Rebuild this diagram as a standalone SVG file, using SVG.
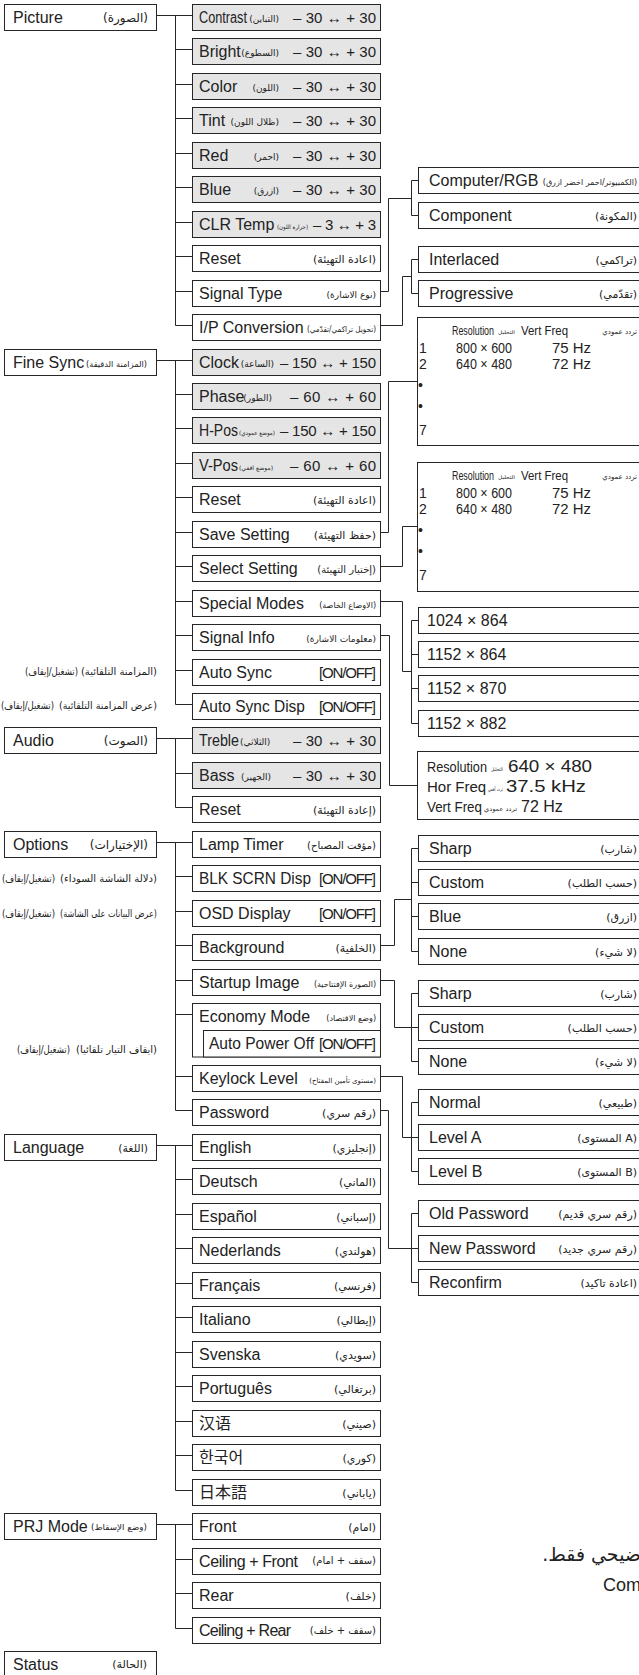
<svg xmlns="http://www.w3.org/2000/svg" width="639" height="1675" viewBox="0 0 639 1675">
<style>
.b{fill:#fff;stroke:#262626;stroke-width:1}
.g{fill:#e5e5e5;stroke:#262626;stroke-width:1}
.c{fill:none;stroke:#262626;stroke-width:1}
text{fill:#222}
.t{font-family:"Liberation Sans",Arial,sans-serif;font-size:16px}
.v{font-family:"Liberation Sans",Arial,sans-serif;font-size:15px}
.h{font-family:"Liberation Sans",Arial,sans-serif;font-size:13px}
.r{font-family:"Liberation Sans",Arial,sans-serif;font-size:14px}
.a{font-family:"DejaVu Sans",sans-serif}
.s12{font-size:12px}.s11{font-size:11px}.s10{font-size:10px}.s9{font-size:9px}.s8{font-size:8px}.s7{font-size:7px}.s6{font-size:6px}.s5{font-size:5px}
.n{font-size:10px}
.e{text-anchor:end}
.sc{font-family:"Noto Sans CJK SC",sans-serif;font-size:16px}
.kr{font-family:"Noto Sans CJK KR",sans-serif;font-size:16px}
.jp{font-family:"Noto Sans CJK JP",sans-serif;font-size:16px}
</style>

<g id="connectors">
<path class="c" d="M156.5,15.5H192.5M175.5,15.5V325.5M175.5,49.5H192.5M175.5,84.5H192.5M175.5,118.5H192.5M175.5,153.5H192.5M175.5,187.5H192.5M175.5,222.5H192.5M175.5,256.5H192.5M175.5,291.5H192.5M175.5,325.5H192.5"/>
<path class="c" d="M156.5,360.5H192.5M175.5,360.5V704.5M175.5,394.5H192.5M175.5,428.5H192.5M175.5,463.5H192.5M175.5,497.5H192.5M175.5,532.5H192.5M175.5,566.5H192.5M175.5,601.5H192.5M175.5,635.5H192.5M175.5,670.5H192.5M175.5,704.5H192.5"/>
<path class="c" d="M156.5,738.5H192.5M175.5,738.5V807.5M175.5,773.5H192.5M175.5,807.5H192.5"/>
<path class="c" d="M156.5,842.5H192.5M175.5,842.5V1110.5M175.5,876.5H192.5M175.5,911.5H192.5M175.5,945.5H192.5M175.5,980.5H192.5M175.5,1014.5H192.5M175.5,1076.5H192.5M175.5,1110.5H192.5"/>
<path class="c" d="M156.5,1145.5H192.5M175.5,1145.5V1490.5M175.5,1179.5H192.5M175.5,1214.5H192.5M175.5,1248.5H192.5M175.5,1283.5H192.5M175.5,1317.5H192.5M175.5,1352.5H192.5M175.5,1386.5H192.5M175.5,1421.5H192.5M175.5,1455.5H192.5M175.5,1490.5H192.5"/>
<path class="c" d="M156.5,1524.5H192.5M175.5,1524.5V1628.5M175.5,1559.5H192.5M175.5,1593.5H192.5M175.5,1628.5H192.5"/>
<path class="c" d="M380.5,291.5H388.5V198.5H411.5M411.5,180.5V215.5M411.5,180.5H418.5M411.5,215.5H418.5"/>
<path class="c" d="M380.5,325.5H402.5V276.5H411.5M411.5,259.5V293.5M411.5,259.5H418.5M411.5,293.5H418.5"/>
<path class="c" d="M380.5,532.5H388.5V381.5H417.5"/>
<path class="c" d="M380.5,566.5H402.5V526.5H417.5"/>
<path class="c" d="M380.5,601.5H402.5V671.5H411.5M411.5,620.5V723.5M411.5,620.5H418.5M411.5,654.5H418.5M411.5,688.5H418.5M411.5,723.5H418.5"/>
<path class="c" d="M380.5,635.5H389.5V785.5H417.5"/>
<path class="c" d="M380.5,945.5H394.5V899.5H411.5M411.5,848.5V951.5M411.5,848.5H418.5M411.5,882.5H418.5M411.5,916.5H418.5M411.5,951.5H418.5"/>
<path class="c" d="M380.5,980.5H394.5V1027.5H411.5M411.5,993.5V1061.5M411.5,993.5H418.5M411.5,1027.5H418.5M411.5,1061.5H418.5"/>
<path class="c" d="M380.5,1076.5H402.5V1137.5H411.5M411.5,1102.5V1171.5M411.5,1102.5H418.5M411.5,1137.5H418.5M411.5,1171.5H418.5"/>
<path class="c" d="M380.5,1110.5H388.5V1248.5H411.5M411.5,1213.5V1282.5M411.5,1213.5H418.5M411.5,1248.5H418.5M411.5,1282.5H418.5"/>
</g>

<!-- main menu -->
<g id="m-picture"><rect class="b" x="4.5" y="4.5" width="152" height="26"/><text class="t" x="13" y="23">Picture</text><text class="a s12 e" x="148" y="22">(الصورة)</text></g>
<g id="m-finesync"><rect class="b" x="4.5" y="349.5" width="152" height="26"/><text class="t" x="13" y="368">Fine Sync</text><text class="a s8" x="86" y="367" textLength="61" lengthAdjust="spacingAndGlyphs">(المزامنة الدقيقة)</text></g>
<g id="m-audio"><rect class="b" x="4.5" y="727.5" width="152" height="26"/><text class="t" x="13" y="746">Audio</text><text class="a s12 e" x="148" y="745">(الصوت)</text></g>
<g id="m-options"><rect class="b" x="4.5" y="831.5" width="152" height="26"/><text class="t" x="13" y="850">Options</text><text class="a s12 e" x="148" y="849">(الإختيارات)</text></g>
<g id="m-language"><rect class="b" x="4.5" y="1134.5" width="152" height="26"/><text class="t" x="13" y="1153">Language</text><text class="a s11 e" x="148" y="1152">(اللغة)</text></g>
<g id="m-prj"><rect class="b" x="4.5" y="1513.5" width="152" height="26"/><text class="t" x="13" y="1532">PRJ Mode</text><text class="a s8" x="91" y="1530" textLength="56" lengthAdjust="spacingAndGlyphs">(وضع الإسقاط)</text></g>
<g id="m-status"><rect class="b" x="4.5" y="1651.5" width="152" height="30"/><text class="t" x="13" y="1670">Status</text><text class="a s11 e" x="147" y="1668">(الحالة)</text></g>

<!-- side notes: Arabic reading order, first group on the right -->
<g id="note-autosync"><text class="a n e" x="157" y="675">(المزامنة التلقائية)</text><text class="a n e" x="78" y="675" textLength="53" lengthAdjust="spacingAndGlyphs">(تشغيل/إيقاف)</text></g>
<g id="note-autosyncdisp"><text class="a n e" x="157" y="709" textLength="98" lengthAdjust="spacingAndGlyphs">(عرض المزامنة التلقائية)</text><text class="a n e" x="54" y="709" textLength="53" lengthAdjust="spacingAndGlyphs">(تشغيل/إيقاف)</text></g>
<g id="note-blk"><text class="a n e" x="157" y="882" textLength="97" lengthAdjust="spacingAndGlyphs">(دلالة الشاشة السوداء)</text><text class="a n e" x="55" y="882" textLength="53" lengthAdjust="spacingAndGlyphs">(تشغيل/إيقاف)</text></g>
<g id="note-osd"><text class="a n e" x="157" y="917" textLength="97" lengthAdjust="spacingAndGlyphs">(عرض البيانات على الشاشة)</text><text class="a n e" x="55" y="917" textLength="53" lengthAdjust="spacingAndGlyphs">(تشغيل/إيقاف)</text></g>
<g id="note-apo"><text class="a n e" x="157" y="1053">(ايقاف التيار تلقائيا)</text><text class="a n e" x="70" y="1053" textLength="53" lengthAdjust="spacingAndGlyphs">(تشغيل/إيقاف)</text></g>

<!-- Picture children -->
<g id="n-contrast"><rect class="g" x="192.5" y="4.5" width="188" height="26"/><text class="t" x="199" y="23" textLength="48" lengthAdjust="spacingAndGlyphs">Contrast</text><text class="a s9 e" x="279" y="22">(التباين)</text><text class="v" x="293" y="23" textLength="83">– 30 ↔ + 30</text></g>
<g id="n-bright"><rect class="g" x="192.5" y="38.5" width="188" height="26"/><text class="t" x="199" y="57">Bright</text><text class="a s9 e" x="279" y="56">(السطوع)</text><text class="v" x="293" y="57" textLength="83">– 30 ↔ + 30</text></g>
<g id="n-color"><rect class="g" x="192.5" y="73.5" width="188" height="26"/><text class="t" x="199" y="92">Color</text><text class="a s9 e" x="279" y="91">(اللون)</text><text class="v" x="293" y="92" textLength="83">– 30 ↔ + 30</text></g>
<g id="n-tint"><rect class="g" x="192.5" y="107.5" width="188" height="26"/><text class="t" x="199" y="126">Tint</text><text class="a s9 e" x="279" y="125">(ظلال اللون)</text><text class="v" x="293" y="126" textLength="83">– 30 ↔ + 30</text></g>
<g id="n-red"><rect class="g" x="192.5" y="142.5" width="188" height="26"/><text class="t" x="199" y="161">Red</text><text class="a s9 e" x="279" y="160">(احمر)</text><text class="v" x="293" y="161" textLength="83">– 30 ↔ + 30</text></g>
<g id="n-blue"><rect class="g" x="192.5" y="176.5" width="188" height="26"/><text class="t" x="199" y="195">Blue</text><text class="a s9 e" x="279" y="194">(ازرق)</text><text class="v" x="293" y="195" textLength="83">– 30 ↔ + 30</text></g>
<g id="n-clrtemp"><rect class="g" x="192.5" y="211.5" width="188" height="26"/><text class="t" x="199" y="230">CLR Temp</text><text class="a s6" x="277" y="229" textLength="31" lengthAdjust="spacingAndGlyphs">(حرارة اللون)</text><text class="v" x="313" y="230" textLength="63">– 3 ↔ + 3</text></g>
<g id="n-reset1"><rect class="b" x="192.5" y="245.5" width="188" height="26"/><text class="t" x="199" y="264">Reset</text><text class="a s11 e" x="376" y="263">(اعادة التهيئة)</text></g>
<g id="n-signaltype"><rect class="b" x="192.5" y="280.5" width="188" height="26"/><text class="t" x="199" y="299">Signal Type</text><text class="a s9 e" x="376" y="298">(نوع الاشارة)</text></g>
<g id="n-ipconv"><rect class="b" x="192.5" y="314.5" width="188" height="26"/><text class="t" x="199" y="333">I/P Conversion</text><text class="a s8" x="307" y="332" textLength="69" lengthAdjust="spacingAndGlyphs">(تحويل تراكمي/تقدّمي)</text></g>

<!-- Fine Sync children -->
<g id="n-clock"><rect class="g" x="192.5" y="349.5" width="188" height="26"/><text class="t" x="199" y="368">Clock</text><text class="a s9 e" x="274" y="367">(الساعة)</text><text class="v" x="280" y="368" textLength="96">– 150 ↔ + 150</text></g>
<g id="n-phase"><rect class="g" x="192.5" y="383.5" width="188" height="26"/><text class="t" x="199" y="402">Phase</text><text class="a s9 e" x="272" y="401">(الطور)</text><text class="v" x="290" y="402" textLength="86">– 60 ↔ + 60</text></g>
<g id="n-hpos"><rect class="g" x="192.5" y="417.5" width="188" height="26"/><text class="t" x="199" y="436" textLength="39" lengthAdjust="spacingAndGlyphs">H-Pos</text><text class="a s6" x="239" y="435" textLength="36" lengthAdjust="spacingAndGlyphs">(موضع عمودي)</text><text class="v" x="280" y="436" textLength="96">– 150 ↔ + 150</text></g>
<g id="n-vpos"><rect class="g" x="192.5" y="452.5" width="188" height="26"/><text class="t" x="199" y="471" textLength="39" lengthAdjust="spacingAndGlyphs">V-Pos</text><text class="a s6" x="239" y="470" textLength="34" lengthAdjust="spacingAndGlyphs">(موضع افقي)</text><text class="v" x="290" y="471" textLength="86">– 60 ↔ + 60</text></g>
<g id="n-reset2"><rect class="b" x="192.5" y="486.5" width="188" height="26"/><text class="t" x="199" y="505">Reset</text><text class="a s11 e" x="376" y="504">(اعادة التهيئة)</text></g>
<g id="n-savesetting"><rect class="b" x="192.5" y="521.5" width="188" height="26"/><text class="t" x="199" y="540">Save Setting</text><text class="a s11 e" x="376" y="539">(حفظ التهيئة)</text></g>
<g id="n-selectsetting"><rect class="b" x="192.5" y="555.5" width="188" height="26"/><text class="t" x="199" y="574">Select Setting</text><text class="a s10 e" x="376" y="573">(إختيار التهيئة)</text></g>
<g id="n-specialmodes"><rect class="b" x="192.5" y="590.5" width="188" height="26"/><text class="t" x="199" y="609">Special Modes</text><text class="a s8 e" x="376" y="608">(الاوضاع الخاصة)</text></g>
<g id="n-signalinfo"><rect class="b" x="192.5" y="624.5" width="188" height="26"/><text class="t" x="199" y="643">Signal Info</text><text class="a s9 e" x="376" y="642">(معلومات الاشارة)</text></g>
<g id="n-autosync"><rect class="b" x="192.5" y="659.5" width="188" height="26"/><text class="t" x="199" y="678">Auto Sync</text><text class="v" x="319" y="678" textLength="57">[ON/OFF]</text></g>
<g id="n-autosyncdisp"><rect class="b" x="192.5" y="693.5" width="188" height="26"/><text class="t" x="199" y="712" textLength="106" lengthAdjust="spacingAndGlyphs">Auto Sync Disp</text><text class="v" x="319" y="712" textLength="57">[ON/OFF]</text></g>

<!-- Audio children -->
<g id="n-treble"><rect class="g" x="192.5" y="727.5" width="188" height="26"/><text class="t" x="199" y="746" textLength="40" lengthAdjust="spacingAndGlyphs">Treble</text><text class="a s9" x="240" y="745">(الثلاثي)</text><text class="v" x="293" y="746" textLength="83">– 30 ↔ + 30</text></g>
<g id="n-bass"><rect class="g" x="192.5" y="762.5" width="188" height="26"/><text class="t" x="199" y="781">Bass</text><text class="a s9" x="241" y="780">(الجهير)</text><text class="v" x="293" y="781" textLength="83">– 30 ↔ + 30</text></g>
<g id="n-reset3"><rect class="b" x="192.5" y="796.5" width="188" height="26"/><text class="t" x="199" y="815">Reset</text><text class="a s11 e" x="376" y="814">(إعادة التهيئة)</text></g>

<!-- Options children -->
<g id="n-lamptimer"><rect class="b" x="192.5" y="831.5" width="188" height="26"/><text class="t" x="199" y="850">Lamp Timer</text><text class="a s10 e" x="376" y="849">(مؤقت المصباح)</text></g>
<g id="n-blk"><rect class="b" x="192.5" y="865.5" width="188" height="26"/><text class="t" x="199" y="884" textLength="112" lengthAdjust="spacingAndGlyphs">BLK SCRN Disp</text><text class="v" x="319" y="884" textLength="57">[ON/OFF]</text></g>
<g id="n-osd"><rect class="b" x="192.5" y="900.5" width="188" height="26"/><text class="t" x="199" y="919">OSD Display</text><text class="v" x="319" y="919" textLength="57">[ON/OFF]</text></g>
<g id="n-background"><rect class="b" x="192.5" y="934.5" width="188" height="26"/><text class="t" x="199" y="953">Background</text><text class="a s11 e" x="376" y="952">(الخلفية)</text></g>
<g id="n-startup"><rect class="b" x="192.5" y="969.5" width="188" height="26"/><text class="t" x="199" y="988">Startup Image</text><text class="a s8 e" x="376" y="987">(الصورة الإفتتاحية)</text></g>
<g id="n-economy"><rect class="b" x="192.5" y="1003.5" width="188" height="53.5"/><text class="t" x="199" y="1022">Economy Mode</text><text class="a s8 e" x="376" y="1021">(وضع الاقتصاد)</text>
<rect class="b" x="203.5" y="1030.5" width="177" height="26.5"/><text class="t" x="209" y="1049" textLength="105" lengthAdjust="spacingAndGlyphs">Auto Power Off</text><text class="v" x="319" y="1049" textLength="57">[ON/OFF]</text></g>
<g id="n-keylock"><rect class="b" x="192.5" y="1065.5" width="188" height="26"/><text class="t" x="199" y="1084">Keylock Level</text><text class="a s7 e" x="376" y="1083">(مستوى تأمين المفتاح)</text></g>
<g id="n-password"><rect class="b" x="192.5" y="1099.5" width="188" height="26"/><text class="t" x="199" y="1118">Password</text><text class="a s11 e" x="376" y="1117">(رقم سري)</text></g>

<!-- Language children -->
<g id="n-english"><rect class="b" x="192.5" y="1134.5" width="188" height="26"/><text class="t" x="199" y="1153">English</text><text class="a s11 e" x="376" y="1152">(إنجليزي)</text></g>
<g id="n-deutsch"><rect class="b" x="192.5" y="1168.5" width="188" height="26"/><text class="t" x="199" y="1187">Deutsch</text><text class="a s11 e" x="376" y="1186">(الماني)</text></g>
<g id="n-espanol"><rect class="b" x="192.5" y="1203.5" width="188" height="26"/><text class="t" x="199" y="1222">Español</text><text class="a s11 e" x="376" y="1221">(إسباني)</text></g>
<g id="n-nederlands"><rect class="b" x="192.5" y="1237.5" width="188" height="26"/><text class="t" x="199" y="1256">Nederlands</text><text class="a s11 e" x="376" y="1255">(هولندي)</text></g>
<g id="n-francais"><rect class="b" x="192.5" y="1272.5" width="188" height="26"/><text class="t" x="199" y="1291">Français</text><text class="a s11 e" x="376" y="1290">(فرنسي)</text></g>
<g id="n-italiano"><rect class="b" x="192.5" y="1306.5" width="188" height="26"/><text class="t" x="199" y="1325">Italiano</text><text class="a s11 e" x="376" y="1324">(إيطالي)</text></g>
<g id="n-svenska"><rect class="b" x="192.5" y="1341.5" width="188" height="26"/><text class="t" x="199" y="1360">Svenska</text><text class="a s11 e" x="376" y="1359">(سويدي)</text></g>
<g id="n-portugues"><rect class="b" x="192.5" y="1375.5" width="188" height="26"/><text class="t" x="199" y="1394">Português</text><text class="a s11 e" x="376" y="1393">(برتغالي)</text></g>
<g id="n-chinese"><rect class="b" x="192.5" y="1410.5" width="188" height="26"/><text class="sc" x="199" y="1429">汉语</text><text class="a s11 e" x="376" y="1428">(صيني)</text></g>
<g id="n-korean"><rect class="b" x="192.5" y="1444.5" width="188" height="26"/><text class="kr" x="199" y="1463">한국어</text><text class="a s11 e" x="376" y="1462">(كوري)</text></g>
<g id="n-japanese"><rect class="b" x="192.5" y="1479.5" width="188" height="26"/><text class="jp" x="199" y="1498">日本語</text><text class="a s11 e" x="376" y="1497">(ياباني)</text></g>

<!-- PRJ Mode children -->
<g id="n-front"><rect class="b" x="192.5" y="1513.5" width="188" height="26"/><text class="t" x="199" y="1532">Front</text><text class="a s11 e" x="376" y="1531">(امام)</text></g>
<g id="n-ceilfront"><rect class="b" x="192.5" y="1548.5" width="188" height="26"/><text class="t" x="199" y="1567" textLength="99">Ceiling + Front</text><text class="a s10 e" x="376" y="1564">(سقف + امام)</text></g>
<g id="n-rear"><rect class="b" x="192.5" y="1582.5" width="188" height="26"/><text class="t" x="199" y="1601">Rear</text><text class="a s11 e" x="376" y="1600">(خلف)</text></g>
<g id="n-ceilrear"><rect class="b" x="192.5" y="1617.5" width="188" height="26"/><text class="t" x="199" y="1636" textLength="92">Ceiling + Rear</text><text class="a s10 e" x="376" y="1634">(سقف + خلف)</text></g>

<!-- Third column -->
<g id="n-computer"><rect class="b" x="418.5" y="167.5" width="230" height="26"/><text class="t" x="429" y="186">Computer/RGB</text><text class="a s8 e" x="637" y="185">(الكمبيوتر/احمر اخضر ازرق)</text></g>
<g id="n-component"><rect class="b" x="418.5" y="202.5" width="230" height="26"/><text class="t" x="429" y="221">Component</text><text class="a s11 e" x="637" y="220">(المكونة)</text></g>
<g id="n-interlaced"><rect class="b" x="418.5" y="246.5" width="230" height="26"/><text class="t" x="429" y="265">Interlaced</text><text class="a s11 e" x="637" y="264">(تراكمي)</text></g>
<g id="n-progressive"><rect class="b" x="418.5" y="280.5" width="230" height="26"/><text class="t" x="429" y="299">Progressive</text><text class="a s11 e" x="637" y="298">(تقدّمي)</text></g>

<g id="n-table1"><rect class="b" x="417.5" y="317.5" width="230" height="128"/>
<text class="h" x="452" y="334.5" textLength="42" lengthAdjust="spacingAndGlyphs">Resolution</text><text class="a s5" x="498" y="334" textLength="17" lengthAdjust="spacingAndGlyphs">التحليل</text><text class="h" x="521" y="334.5" textLength="47" lengthAdjust="spacingAndGlyphs">Vert Freq</text><text class="a s7 e" x="637" y="334">تردد عمودي</text>
<text class="r" x="419" y="352.5">1</text><text class="r" x="456" y="352.5" textLength="56" lengthAdjust="spacingAndGlyphs">800 × 600</text><text class="r" x="552" y="352.5" textLength="39" lengthAdjust="spacingAndGlyphs">75 Hz</text>
<text class="r" x="419" y="369">2</text><text class="r" x="456" y="369" textLength="56" lengthAdjust="spacingAndGlyphs">640 × 480</text><text class="r" x="552" y="369" textLength="39" lengthAdjust="spacingAndGlyphs">72 Hz</text>
<text class="r" x="418" y="390">•</text><text class="r" x="418" y="411">•</text><text class="r" x="419" y="435">7</text></g>

<g id="n-table2"><rect class="b" x="417.5" y="462.5" width="230" height="129"/>
<text class="h" x="452" y="479.5" textLength="42" lengthAdjust="spacingAndGlyphs">Resolution</text><text class="a s5" x="498" y="479" textLength="17" lengthAdjust="spacingAndGlyphs">التحليل</text><text class="h" x="521" y="479.5" textLength="47" lengthAdjust="spacingAndGlyphs">Vert Freq</text><text class="a s7 e" x="637" y="479">تردد عمودي</text>
<text class="r" x="419" y="497.5">1</text><text class="r" x="456" y="497.5" textLength="56" lengthAdjust="spacingAndGlyphs">800 × 600</text><text class="r" x="552" y="497.5" textLength="39" lengthAdjust="spacingAndGlyphs">75 Hz</text>
<text class="r" x="419" y="514">2</text><text class="r" x="456" y="514" textLength="56" lengthAdjust="spacingAndGlyphs">640 × 480</text><text class="r" x="552" y="514" textLength="39" lengthAdjust="spacingAndGlyphs">72 Hz</text>
<text class="r" x="418" y="535">•</text><text class="r" x="418" y="556">•</text><text class="r" x="419" y="580">7</text></g>

<g id="n-1024x864"><rect class="b" x="418.5" y="607.5" width="230" height="26"/><text class="t" x="427" y="626">1024 × 864</text></g>
<g id="n-1152x864"><rect class="b" x="418.5" y="641.5" width="230" height="26"/><text class="t" x="427" y="660">1152 × 864</text></g>
<g id="n-1152x870"><rect class="b" x="418.5" y="675.5" width="230" height="26"/><text class="t" x="427" y="694">1152 × 870</text></g>
<g id="n-1152x882"><rect class="b" x="418.5" y="710.5" width="230" height="26"/><text class="t" x="427" y="729">1152 × 882</text></g>

<g id="n-info"><rect class="b" x="417.5" y="751.5" width="230" height="68"/>
<text class="v" x="427" y="772" textLength="60" lengthAdjust="spacingAndGlyphs">Resolution</text><text class="a s5" x="491" y="771" textLength="12" lengthAdjust="spacingAndGlyphs">التحليل</text><text class="t" x="508" y="772" textLength="84" lengthAdjust="spacingAndGlyphs">640 × 480</text>
<text class="v" x="427" y="792">Hor Freq</text><text class="a s5" x="488" y="791" textLength="15" lengthAdjust="spacingAndGlyphs">تردد أفقي</text><text class="t" x="506" y="792" textLength="80" lengthAdjust="spacingAndGlyphs">37.5 kHz</text>
<text class="v" x="427" y="812" textLength="55" lengthAdjust="spacingAndGlyphs">Vert Freq</text><text class="a s6" x="484" y="811" textLength="33" lengthAdjust="spacingAndGlyphs">تردد عمودي</text><text class="t" x="521" y="812">72 Hz</text></g>

<g id="n-bg-sharp"><rect class="b" x="418.5" y="835.5" width="230" height="26"/><text class="t" x="429" y="854">Sharp</text><text class="a s11 e" x="637" y="853">(شارب)</text></g>
<g id="n-bg-custom"><rect class="b" x="418.5" y="869.5" width="230" height="26"/><text class="t" x="429" y="888">Custom</text><text class="a s11 e" x="637" y="887">(حسب الطلب)</text></g>
<g id="n-bg-blue"><rect class="b" x="418.5" y="903.5" width="230" height="26"/><text class="t" x="429" y="922">Blue</text><text class="a s11 e" x="637" y="921">(ازرق)</text></g>
<g id="n-bg-none"><rect class="b" x="418.5" y="938.5" width="230" height="26"/><text class="t" x="429" y="957">None</text><text class="a s11 e" x="637" y="956">(لا شيء)</text></g>

<g id="n-su-sharp"><rect class="b" x="418.5" y="980.5" width="230" height="26"/><text class="t" x="429" y="999">Sharp</text><text class="a s11 e" x="637" y="998">(شارب)</text></g>
<g id="n-su-custom"><rect class="b" x="418.5" y="1014.5" width="230" height="26"/><text class="t" x="429" y="1033">Custom</text><text class="a s11 e" x="637" y="1032">(حسب الطلب)</text></g>
<g id="n-su-none"><rect class="b" x="418.5" y="1048.5" width="230" height="26"/><text class="t" x="429" y="1067">None</text><text class="a s11 e" x="637" y="1066">(لا شيء)</text></g>

<g id="n-normal"><rect class="b" x="418.5" y="1089.5" width="230" height="26"/><text class="t" x="429" y="1108">Normal</text><text class="a s11 e" x="637" y="1107">(طبيعي)</text></g>
<g id="n-levela"><rect class="b" x="418.5" y="1124.5" width="230" height="26"/><text class="t" x="429" y="1143">Level A</text><text class="a s11 e" x="637" y="1142">&#x200E;(المستوى A)</text></g>
<g id="n-levelb"><rect class="b" x="418.5" y="1158.5" width="230" height="26"/><text class="t" x="429" y="1177">Level B</text><text class="a s11 e" x="637" y="1176">&#x200E;(المستوى B)</text></g>

<g id="n-oldpw"><rect class="b" x="418.5" y="1200.5" width="230" height="26"/><text class="t" x="429" y="1219">Old Password</text><text class="a s11 e" x="637" y="1218">(رقم سري قديم)</text></g>
<g id="n-newpw"><rect class="b" x="418.5" y="1235.5" width="230" height="26"/><text class="t" x="429" y="1254">New Password</text><text class="a s11 e" x="637" y="1253">(رقم سري جديد)</text></g>
<g id="n-reconfirm"><rect class="b" x="418.5" y="1269.5" width="230" height="26"/><text class="t" x="429" y="1288">Reconfirm</text><text class="a s11 e" x="637" y="1287">(اعادة تاكيد)</text></g>

<g id="footnote"><text class="a e" style="font-size:19px" x="641" y="1561">&#x200F;ضيحي فقط.&#x200F;</text><text class="t" style="font-size:18px" x="603" y="1591">Com</text></g>
</svg>
